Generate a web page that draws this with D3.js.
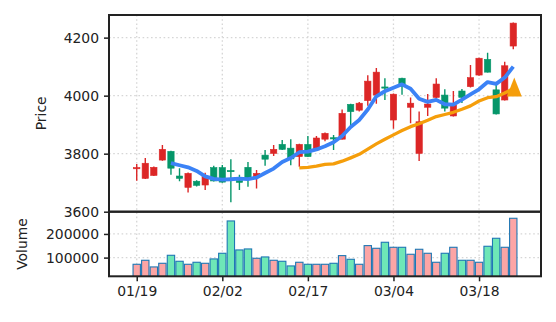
<!DOCTYPE html>
<html><head><meta charset="utf-8">
<script src="https://cdn.jsdelivr.net/npm/d3@7"></script>
<style>
html,body{margin:0;padding:0;background:#fff;}
svg text{font-family:"DejaVu Sans",sans-serif;fill:#222;}
</style></head><body>
<svg id="chart" width="556" height="322"></svg>
<script>
// Daily bars (MM/DD)
const dates = ["01/19","01/20","01/21","01/22","01/25","01/26","01/27","01/28","01/29","02/01",
  "02/02","02/03","02/04","02/05","02/08","02/09","02/10","02/11","02/12","02/16",
  "02/17","02/18","02/19","02/22","02/23","02/24","02/25","02/26","03/01","03/02",
  "03/04","03/05","03/08","03/09","03/10","03/11","03/12","03/15","03/16","03/17",
  "03/18","03/19","03/22","03/23","03/24"];
const opens  = [3748,3715,3725,3778,3808,3723,3684,3705,3692,3752,3752,3742,3707,3753,3718,3795,3801,3832,3819,3790,
  3832,3813,3850,3855,3850,3970,3950,3983,4002,4030,3916,4060,3960,3801,3960,3994,4002,3930,4016,4031,
  4071,4125,4020,3985,4171];
const highs  = [3764,3785,3756,3830,3810,3750,3735,3708,3734,3758,3761,3781,3727,3771,3744,3813,3830,3847,3850,3834,
  3861,3861,3873,3864,3952,3972,3978,4070,4095,4060,4007,4062,3994,3945,4006,4060,4022,4016,4023,4106,
  4131,4148,4037,4117,4252];
const lows   = [3707,3713,3723,3776,3727,3705,3666,3687,3675,3704,3700,3633,3675,3686,3680,3758,3792,3813,3760,3755,
  3789,3812,3843,3813,3849,3899,3945,3965,3972,3985,3886,4003,3905,3775,3930,3991,3945,3928,3975,4028,
  4069,4080,3935,3983,4160];
const closes = [3752,3767,3753,3815,3750,3715,3732,3691,3721,3706,3702,3739,3701,3714,3732,3781,3815,3815,3782,3832,
  3790,3854,3870,3852,3939,3945,3974,4050,4081,4026,4005,4033,3974,3910,3971,4040,3957,3968,3994,4062,
  4129,4081,3937,4103,4250];
const volumes = [71800,88700,60600,76000,109800,84500,71800,80300,76000,94400,118300,254900,132400,136600,97200,102800,88700,84500,64800,80300,
  71800,71800,71800,76000,108400,92900,71800,150700,139400,164800,143600,143600,114100,135200,118300,80300,118300,143600,88700,88700,
  80300,147900,181700,143600,266200];

const priceTicks = [3600, 3800, 4000, 4200];
const volumeTicks = [100000, 200000];
const dateTickIdx = [0, 10, 20, 30, 40];
const maShort = 5, maLong = 20;

const UP = "#dc2626", DOWN = "#059669";
const VOL_UP = "#fca5a5", VOL_DOWN = "#6ee7b7", VOL_EDGE = "#1f77b4";
const MA_SHORT_COLOR = "#3b82f6", MA_LONG_COLOR = "#f59e0b";
const GRID = "#d6d6d6", AXIS = "#222";
const FS = 13.9;

// panel geometry
const L = 109, R = 541, T = 15, M = 211.7, B = 276.3;

const svg = d3.select("#chart");
const n = closes.length;

const x = d3.scaleLinear().domain([-3.24, n - 1 + 3.24]).range([L, R]);
const step = x(1) - x(0);
const yP = d3.scaleLinear().domain([3600, 4278]).range([M, T]);
const yV = d3.scaleLinear().domain([21000, 294000]).range([B, M]);

function sma(arr, p) {
  return arr.map((_, i) => i < p - 1 ? null : d3.mean(arr.slice(i - p + 1, i + 1)));
}
const ma5 = sma(closes, maShort);
const ma20 = sma(closes, maLong);

const defs = svg.append("defs");
defs.append("clipPath").attr("id", "clipP").append("rect")
  .attr("x", L).attr("y", T).attr("width", R - L).attr("height", M - T);
defs.append("clipPath").attr("id", "clipV").append("rect")
  .attr("x", L).attr("y", M).attr("width", R - L).attr("height", B - M);

// grid
const grid = svg.append("g").attr("stroke", GRID).attr("stroke-width", 1.3).attr("stroke-dasharray", "1.6,2.6");
dateTickIdx.forEach(i => {
  grid.append("line").attr("x1", x(i)).attr("x2", x(i)).attr("y1", T).attr("y2", B);
});
priceTicks.forEach(v => {
  grid.append("line").attr("x1", L).attr("x2", R).attr("y1", yP(v)).attr("y2", yP(v));
});
volumeTicks.forEach(v => {
  grid.append("line").attr("x1", L).attr("x2", R).attr("y1", yV(v)).attr("y2", yV(v));
});

// candles
const pg = svg.append("g").attr("clip-path", "url(#clipP)");
const bw = step * 0.74;
const candles = pg.selectAll("g.c").data(d3.range(n)).join("g").attr("class", "c");
candles.append("line")
  .attr("x1", i => x(i)).attr("x2", i => x(i))
  .attr("y1", i => yP(highs[i])).attr("y2", i => yP(lows[i]))
  .attr("stroke", i => closes[i] >= opens[i] ? UP : DOWN).attr("stroke-width", 1.4);
candles.append("rect")
  .attr("x", i => x(i) - bw / 2)
  .attr("y", i => yP(Math.max(opens[i], closes[i])))
  .attr("width", bw)
  .attr("height", i => Math.max(Math.abs(yP(opens[i]) - yP(closes[i])), 1.2))
  .attr("fill", i => closes[i] >= opens[i] ? UP : DOWN)
  .attr("stroke", i => closes[i] >= opens[i] ? UP : DOWN).attr("stroke-width", 0.6);

// moving averages
const line = d3.line().defined(d => d[1] != null).x(d => x(d[0])).y(d => yP(d[1]));
pg.append("path").datum(ma20.map((v, i) => [i, v]))
  .attr("d", line).attr("fill", "none").attr("stroke", MA_LONG_COLOR)
  .attr("stroke-width", 3.3).attr("stroke-linejoin", "round");
pg.append("path").datum(ma5.map((v, i) => [i, v]))
  .attr("d", line).attr("fill", "none").attr("stroke", MA_SHORT_COLOR)
  .attr("stroke-width", 3.8).attr("stroke-linejoin", "round");

// up-triangle marker on the latest long average
const last = n - 1;
pg.append("path")
  .attr("d", "M0,-9.5L7.5,9.5L-7.5,9.5Z")
  .attr("transform", `translate(${x(last) + 1},${yP(ma20[last]) - 1.5})`)
  .attr("fill", MA_LONG_COLOR);

// volume
const vg = svg.append("g").attr("clip-path", "url(#clipV)");
const vw = step * 0.86;
vg.selectAll("rect").data(d3.range(n)).join("rect")
  .attr("x", i => x(i) - vw / 2)
  .attr("y", i => yV(volumes[i]))
  .attr("width", vw)
  .attr("height", i => B + 2 - yV(volumes[i]))
  .attr("fill", i => closes[i] >= opens[i] ? VOL_UP : VOL_DOWN)
  .attr("stroke", VOL_EDGE).attr("stroke-width", 1.1);

// axes
const axP = d3.axisLeft(yP).tickValues(priceTicks).tickSize(5).tickPadding(5).tickFormat(d3.format("d"));
const axV = d3.axisLeft(yV).tickValues(volumeTicks).tickSize(5).tickPadding(5).tickFormat(d3.format("d"));
const axX = d3.axisBottom(x).tickValues(dateTickIdx).tickSize(5).tickPadding(5).tickFormat(i => dates[i]);

function style(g) {
  g.select(".domain").remove();
  g.selectAll(".tick line").attr("stroke", AXIS).attr("stroke-width", 1.5);
  g.selectAll(".tick text").attr("font-size", FS).attr("fill", AXIS).style("font-family", "DejaVu Sans");
}
svg.append("g").attr("transform", `translate(${L},0)`).call(axP).call(style);
svg.append("g").attr("transform", `translate(${L},0)`).call(axV).call(style);
svg.append("g").attr("transform", `translate(0,${B})`).call(axX).call(style);

// frames
[[T, M], [M, B]].forEach(([a, b]) => {
  svg.append("rect").attr("x", L).attr("y", a).attr("width", R - L).attr("height", b - a)
    .attr("fill", "none").attr("stroke", AXIS).attr("stroke-width", 2);
});

// axis titles
svg.append("text").attr("transform", `translate(41,${(T + M) / 2}) rotate(-90)`)
  .attr("text-anchor", "middle").attr("dominant-baseline", "central").attr("font-size", FS).text("Price");
svg.append("text").attr("transform", `translate(22,${(M + B) / 2}) rotate(-90)`)
  .attr("text-anchor", "middle").attr("dominant-baseline", "central").attr("font-size", FS).text("Volume");
</script>
</body></html>
